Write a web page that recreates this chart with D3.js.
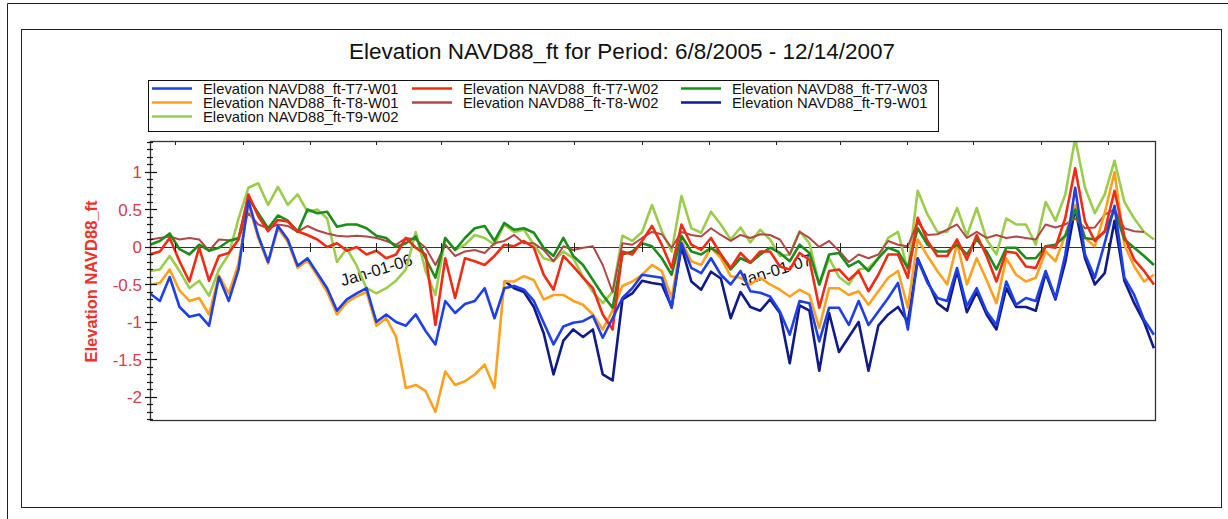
<!DOCTYPE html>
<html><head><meta charset="utf-8">
<script src="https://cdn.jsdelivr.net/npm/d3@7"></script>
<style>
html,body{margin:0;padding:0;background:#fff;}
svg{display:block;font-family:Arial,"Liberation Sans",sans-serif;}
</style></head>
<body><svg id="c" width="1228" height="519"></svg>
<script>
// ---------- DATA ----------
const titleText = "Elevation NAVD88_ft for Period: 6/8/2005 - 12/14/2007";
const yTitle = "Elevation NAVD88_ft";
const startDate = "2005-06-08";
const endDate = "2007-12-14";
const stepDays = 9; // one sample every 9 days
const seriesNames = [
  "Elevation NAVD88_ft-T7-W01","Elevation NAVD88_ft-T7-W02","Elevation NAVD88_ft-T7-W03",
  "Elevation NAVD88_ft-T8-W01","Elevation NAVD88_ft-T8-W02","Elevation NAVD88_ft-T9-W01",
  "Elevation NAVD88_ft-T9-W02"];
const seriesColors = ["#1f40e6","#f02c14","#1c8c1c","#ffa11f","#b04848","#101a88","#9ccc4c"];
const xTickDates = ["2005-07-01","2005-09-01","2005-11-01","2006-01-01","2006-03-01","2006-05-01",
  "2006-07-01","2006-09-01","2006-11-01","2007-01-01","2007-03-01","2007-05-01","2007-07-01",
  "2007-09-01","2007-11-01"];
const xTickLabels = ["","","","Jan-01-06","","","","","","Jan-01-07","","","","",""];
const yMajorTicks = [-2,-1.5,-1,-0.5,0,0.5,1];
const yTickLabels = ["-2","-1.5","-1","-0.5","0","0.5","1"];

const t7w01 = [-0.62,-0.72,-0.4,-0.8,-0.93,-0.9,-1.05,-0.4,-0.72,-0.3,
  0.62,0.15,-0.2,0.28,0.1,-0.25,-0.15,-0.35,-0.55,-0.85,
  -0.7,-0.62,-0.55,-1.0,-0.9,-1.0,-1.05,-0.9,-1.12,-1.3,
  -0.72,-0.88,-0.76,-0.72,-0.55,-0.95,-0.55,-0.52,-0.57,-0.72,
  -1.01,-1.3,-1.06,-1.01,-0.99,-0.92,-1.21,-0.95,-0.68,-0.55,
  -0.37,-0.39,-0.41,-0.81,0.05,-0.28,-0.35,-0.15,-0.37,-0.5,
  -0.32,-0.59,-0.61,-0.66,-0.86,-1.17,-0.72,-0.75,-1.26,-0.81,
  -0.81,-1.04,-0.72,-1.04,-0.86,-0.68,-0.48,-1.1,-0.17,-0.48,
  -0.68,-0.72,-0.28,-0.79,-0.55,-0.86,-1.04,-0.46,-0.77,-0.68,
  -0.72,-0.32,-0.68,-0.1,0.79,-0.1,-0.41,0.05,0.55,-0.41,
  -0.64,-0.97,-1.17];
const t7w02 = [-0.1,-0.06,0.12,-0.19,-0.46,-0.01,-0.45,-0.12,-0.08,0.1,
  0.7,0.41,0.21,0.36,0.34,0.21,0.16,0.1,0.0,0.05,
  -0.05,0.0,-0.1,-0.05,-0.15,-0.1,0.12,-0.01,-0.1,-1.04,
  -0.15,-0.68,-0.15,-0.19,-0.24,-0.12,0.03,0.01,0.08,-0.01,
  -0.37,-0.57,-0.12,-0.26,-0.41,-0.55,-0.9,-1.1,-0.06,-0.1,
  0.08,0.28,0.03,-0.28,0.3,0.03,-0.04,0.12,-0.1,-0.28,
  -0.08,-0.21,-0.06,-0.06,-0.26,-0.3,-0.08,-0.17,-0.81,-0.32,
  -0.3,-0.44,-0.32,-0.59,-0.37,-0.1,-0.1,-0.41,0.39,0.08,
  -0.12,-0.12,0.1,-0.17,0.16,-0.12,-0.46,-0.06,-0.08,-0.26,
  -0.28,0.01,-0.01,0.39,1.05,0.34,0.08,0.21,0.75,0.14,
  -0.17,-0.32,-0.5];
const t7w03 = [0.03,0.08,0.18,-0.03,-0.1,0.03,-0.05,-0.01,0.08,0.12,
  0.65,0.45,0.25,0.42,0.35,0.2,0.5,0.45,0.47,0.27,
  0.3,0.3,0.25,0.15,0.12,0.0,0.05,0.14,-0.15,-0.41,
  0.12,-0.04,0.12,0.25,0.28,0.08,0.32,0.23,0.25,0.19,
  -0.01,-0.12,0.12,-0.12,-0.24,-0.44,-0.64,-0.81,-0.1,-0.06,
  0.05,0.01,-0.15,-0.37,0.15,-0.06,-0.1,-0.01,-0.1,-0.3,
  -0.15,-0.21,-0.1,-0.01,-0.08,-0.19,0.03,-0.08,-0.5,-0.1,
  -0.08,-0.26,-0.19,-0.32,-0.15,-0.01,-0.06,-0.28,0.25,0.03,
  -0.06,-0.06,0.03,-0.1,0.1,-0.06,-0.3,-0.01,-0.01,-0.15,
  -0.15,0.01,0.03,0.15,0.5,0.12,0.1,0.2,0.5,0.1,
  -0.01,-0.12,-0.24];
const t8w01 = [-0.5,-0.48,-0.3,-0.58,-0.72,-0.68,-0.9,-0.38,-0.62,-0.22,
  0.58,0.12,-0.22,0.25,0.07,-0.28,-0.18,-0.38,-0.6,-0.9,
  -0.74,-0.66,-0.6,-1.05,-0.95,-1.2,-1.88,-1.84,-1.92,-2.2,
  -1.66,-1.84,-1.79,-1.7,-1.57,-1.88,-0.46,-0.46,-0.39,-0.44,
  -0.7,-0.64,-0.64,-0.72,-0.77,-0.9,-1.1,-0.85,-0.52,-0.46,
  -0.37,-0.24,-0.32,-0.68,0.08,-0.19,-0.24,-0.01,-0.15,-0.39,
  -0.41,-0.5,-0.41,-0.5,-0.57,-0.66,-0.57,-0.64,-1.08,-0.55,
  -0.55,-0.64,-0.59,-0.77,-0.59,-0.41,-0.32,-0.81,0.1,-0.12,
  -0.32,-0.5,0.05,-0.5,-0.15,-0.44,-0.75,-0.15,-0.37,-0.46,
  -0.41,-0.06,-0.19,0.16,0.56,0.12,0.01,0.45,1.0,0.03,
  -0.26,-0.46,-0.37];
const t8w02 = [0.1,0.12,0.14,0.1,0.12,0.1,-0.05,0.1,0.09,0.11,
  0.45,0.3,0.25,0.3,0.28,0.2,0.28,0.22,0.18,0.15,
  0.14,0.15,0.14,0.12,0.08,0.03,0.12,0.1,-0.01,-0.24,
  0.03,-0.12,-0.06,-0.04,-0.08,0.05,0.08,0.16,0.05,0.05,
  -0.04,-0.19,0.01,-0.04,-0.01,0.01,-0.24,-0.6,0.05,0.03,
  0.12,0.2,0.17,-0.01,0.2,0.16,0.14,0.25,0.16,0.08,
  0.16,0.12,0.17,0.16,0.1,-0.1,0.2,0.12,0.0,0.08,
  -0.05,-0.2,-0.1,-0.15,-0.1,0.08,0.03,0.01,0.33,0.16,
  0.17,0.23,0.3,0.12,0.2,0.12,0.16,0.12,0.14,0.12,
  0.1,0.3,0.26,0.3,0.38,0.25,0.26,0.43,0.5,0.25,
  0.21,0.2,null];
const t9w01 = [null,null,null,null,null,null,null,null,null,null,
  null,null,null,null,null,null,null,null,null,null,
  null,null,null,null,null,null,null,null,null,null,
  null,null,null,null,null,null,-0.45,-0.55,-0.6,-0.8,
  -1.15,-1.7,-1.25,-1.1,-1.2,-1.1,-1.7,-1.78,-0.7,-0.62,
  -0.45,-0.48,-0.5,-0.8,0.0,-0.46,-0.57,-0.33,-0.42,-0.95,
  -0.6,-0.8,-0.85,-0.7,-0.88,-1.55,-0.78,-0.85,-1.65,-0.88,
  -1.4,-1.2,-1.0,-1.65,-1.05,-0.9,-0.8,-1.0,-0.15,-0.45,
  -0.75,-0.85,-0.32,-0.87,-0.6,-0.9,-1.1,-0.55,-0.8,-0.8,
  -0.85,-0.35,-0.7,-0.2,0.52,-0.15,-0.5,-0.35,0.35,-0.45,
  -0.75,-1.0,-1.35];
const t9w02 = [-0.32,-0.3,-0.12,-0.32,-0.55,-0.45,-0.65,-0.3,-0.1,0.38,
  0.79,0.85,0.56,0.8,0.56,0.7,0.47,0.5,0.38,-0.2,
  -0.02,-0.25,-0.55,-0.62,-0.55,-0.45,-0.3,0.2,-0.32,-0.64,
  0.12,-0.04,0.03,0.16,0.12,0.03,0.3,0.2,0.23,0.03,
  -0.15,-0.19,-0.06,-0.15,-0.4,-0.6,-0.75,-0.6,0.15,0.08,
  0.2,0.56,0.21,-0.06,0.68,0.25,0.19,0.47,0.3,0.1,
  0.26,0.06,0.23,0.1,-0.12,-0.1,0.21,0.05,-0.5,-0.15,
  -0.4,-0.5,-0.3,-0.28,-0.15,0.12,0.2,-0.32,0.75,0.43,
  0.2,0.2,0.52,0.15,0.52,0.1,-0.1,0.38,0.3,0.3,
  0.03,0.6,0.35,0.7,1.45,0.79,0.45,0.7,1.15,0.6,
  0.38,0.2,0.1];
const seriesValues = [t7w01,t7w02,t7w03,t8w01,t8w02,t9w01,t9w02];

// ---------- CHART ----------
const svg = d3.select("#c");
const parse = d3.timeParse("%Y-%m-%d");
const t0 = parse(startDate), t1 = parse(endDate);
const plot = {l:150, r:1155, t:141, b:420};

const x = d3.scaleTime().domain([t0, t1]).range([plot.l, plot.r]);
const y = d3.scaleLinear().domain([-2.307, 1.413]).range([plot.b, plot.t]);

// frames
svg.append("line").attr("x1",7.5).attr("x2",7.5).attr("y1",3.5).attr("y2",519).attr("stroke","#222");
svg.append("line").attr("x1",7.5).attr("x2",1228).attr("y1",3.5).attr("y2",3.5).attr("stroke","#222");
svg.append("rect").attr("x",21.5).attr("y",29.5).attr("width",1200).attr("height",478)
  .attr("fill","none").attr("stroke","#222");

// title
svg.append("text").attr("x",622).attr("y",59).attr("text-anchor","middle")
  .attr("font-size",22.5).attr("fill","#111").text(titleText);

// legend
const lg = svg.append("g");
lg.append("rect").attr("x",148.5).attr("y",80.5).attr("width",790).attr("height",51)
  .attr("fill","#fff").attr("stroke","#111");
const colX = [150, 410, 679];
const rowY = [88.5, 102.5, 116.5];
seriesNames.forEach((n,i)=>{
  const c = i%3, r = Math.floor(i/3);
  lg.append("line").attr("x1",colX[c]+2).attr("x2",colX[c]+42).attr("y1",rowY[r]).attr("y2",rowY[r])
    .attr("stroke",seriesColors[i]).attr("stroke-width",2.5);
  lg.append("text").attr("x",colX[c]+53).attr("y",rowY[r]).attr("dy","0.36em")
    .attr("font-size",14.8).attr("fill","#111").text(n);
});

// clip
svg.append("defs").append("clipPath").attr("id","pc").append("rect")
  .attr("x",plot.l).attr("y",plot.t).attr("width",plot.r-plot.l).attr("height",plot.b-plot.t);

// x labels at zero line (under data)
const tickDates = xTickDates.map(parse);
const xl = svg.append("g");
tickDates.forEach((d,i)=>{
  if(!xTickLabels[i]) return;
  xl.append("text").attr("transform",`translate(${x(d)},${y(0)+23}) rotate(-17)`)
    .attr("text-anchor","middle").attr("dy","0.35em").attr("font-size",16.5).attr("fill","#111")
    .text(xTickLabels[i]);
});

// zero line
svg.append("line").attr("x1",plot.l).attr("x2",plot.r).attr("y1",Math.round(y(0))+0.5).attr("y2",Math.round(y(0))+0.5)
  .attr("stroke","#333").attr("stroke-width",1.2);

// data lines
const dates = seriesValues[0].map((_,i)=>d3.timeDay.offset(t0, i*stepDays));
const line = d3.line().defined(v=>v!=null).x((v,i)=>x(dates[i])).y(v=>y(v));
const gl = svg.append("g").attr("clip-path","url(#pc)");
for(let s=seriesValues.length-1; s>=0; s--){
  gl.append("path").attr("d", line(seriesValues[s])).attr("fill","none")
    .attr("stroke",seriesColors[s]).attr("stroke-width", s===4?2:2.6)
    .attr("stroke-linejoin","round");
}

// x ticks: top border and zero line
tickDates.forEach(d=>{
  const xx = Math.round(x(d))+0.5;
  svg.append("line").attr("x1",xx).attr("x2",xx).attr("y1",plot.t).attr("y2",plot.t+4).attr("stroke","#222");
  svg.append("line").attr("x1",xx).attr("x2",xx).attr("y1",y(0)-4).attr("y2",y(0)+5).attr("stroke","#222");
});

// plot frame
svg.append("rect").attr("x",plot.l+0.5).attr("y",plot.t+0.5).attr("width",plot.r-plot.l).attr("height",plot.b-plot.t)
  .attr("fill","none").attr("stroke","#333").attr("stroke-width",1.3);

// y axis ticks
const minor = d3.range(-23, 15).map(k=>k/10);
minor.forEach(v=>{
  const yy = Math.round(y(v))+0.5;
  const isMajor = Math.abs(v*2 - Math.round(v*2))<1e-6;
  svg.append("line").attr("x1", isMajor?145:147).attr("x2", isMajor?157:153)
    .attr("y1",yy).attr("y2",yy).attr("stroke","#111").attr("stroke-width",1.2);
});
yMajorTicks.forEach((v,i)=>{
  svg.append("text").attr("x",142).attr("y",y(v)).attr("dy","0.36em").attr("text-anchor","end")
    .attr("font-size",17).attr("fill","#d0404e").text(yTickLabels[i]);
});
svg.append("text").attr("transform",`translate(97,${(plot.t+plot.b)/2+1}) rotate(-90)`)
  .attr("text-anchor","middle").attr("font-size",16.5).attr("font-weight","bold")
  .attr("fill","#e8342c").text(yTitle);
</script>
</body></html>
